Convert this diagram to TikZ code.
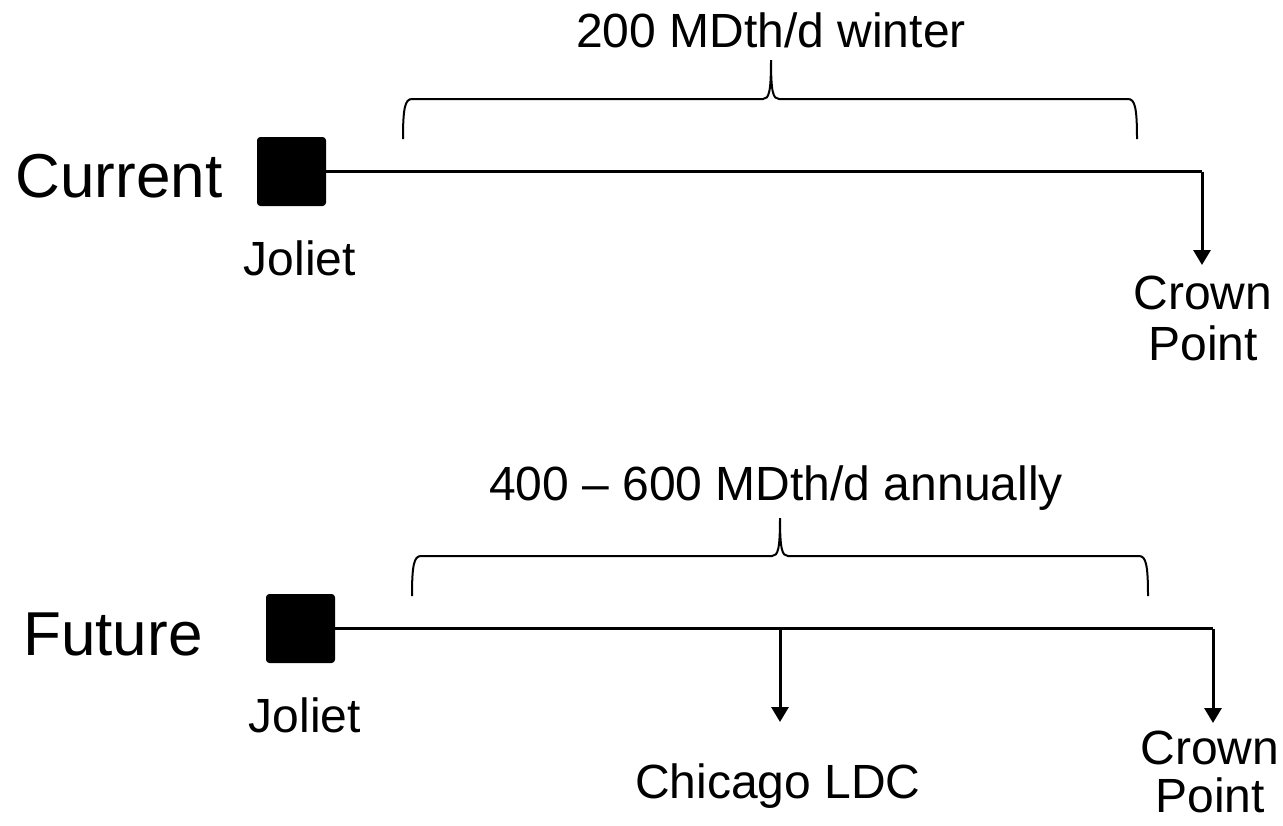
\documentclass[tikz,border=0pt]{standalone}
\usepackage{fontspec}
\setmainfont{Liberation Sans}
\usetikzlibrary{arrows.meta}
\tikzset{
  lbl/.style={font=\fontsize{48}{51}\selectfont, inner sep=0pt, align=center},
  ttl/.style={font=\fontsize{62}{66}\selectfont, inner sep=0pt},
  site/.style={fill=black, draw=black, line width=1pt, rounded corners=3pt,
               minimum size=68pt, inner sep=0pt},
  pipe/.style={line width=3pt},
  flow/.style={line width=3pt, -{Triangle[length=15pt,width=17pt]}},
  brace/.style={line width=2pt}
}
\begin{document}
\begin{tikzpicture}[x=1pt, y=-1pt]
\useasboundingbox (0,0) rectangle (1283,825);

% ---------- current configuration ----------
\node[ttl] (cur) at (119,176) {Current};
\node[site] (j1) at (291.5,171.5) {};
\node[lbl] (jl1) at (300,258) {Joliet};
\node[lbl, anchor=north] (cp1) at (1203,276) {Crown\\Point};
\coordinate (c1) at (1202,171.5);
\draw[pipe] (j1.east) -- (c1);
\draw[flow] (c1) -- ([xshift=-1pt,yshift=11pt]cp1.north);

\node[lbl] (cap1) at (771,30) {200 MDth/d winter};
\draw[brace] (403,139) .. controls (403,108) and (405,99) .. (412,99)
  -- (763,99) .. controls (769,99) and (771,92) .. (771,60)
  .. controls (771,92) and (773,99) .. (779,99)
  -- (1128,99) .. controls (1135,99) and (1137,108) .. (1137,139);

% ---------- future configuration ----------
\node[ttl] (fut) at (113,634) {Future};
\node[site] (j2) at (300.5,628.5) {};
\node[lbl] (jl2) at (305,715) {Joliet};
\node[lbl, anchor=north] (cl) at (778,764) {Chicago LDC};
\node[lbl, anchor=north, font=\fontsize{48}{48}\selectfont] (cp2) at (1210,731) {Crown\\Point};
\coordinate (c2) at (1213,628.5);
\coordinate (s2) at (780,628.5);
\draw[pipe] (j2.east) -- (c2);
\draw[flow] (c2) -- ([xshift=3pt,yshift=8pt]cp2.north);
\draw[flow] (s2) -- (780,722);

\node[lbl] (cap2) at (776,488) {400 -- 600 MDth/d annually};
\draw[brace] (412,596) .. controls (412,565) and (414,556) .. (421,556)
  -- (772,556) .. controls (778,556) and (780,549) .. (780,518)
  .. controls (780,549) and (782,556) .. (788,556)
  -- (1139,556) .. controls (1146,556) and (1148,565) .. (1148,596);
\end{tikzpicture}
\end{document}
